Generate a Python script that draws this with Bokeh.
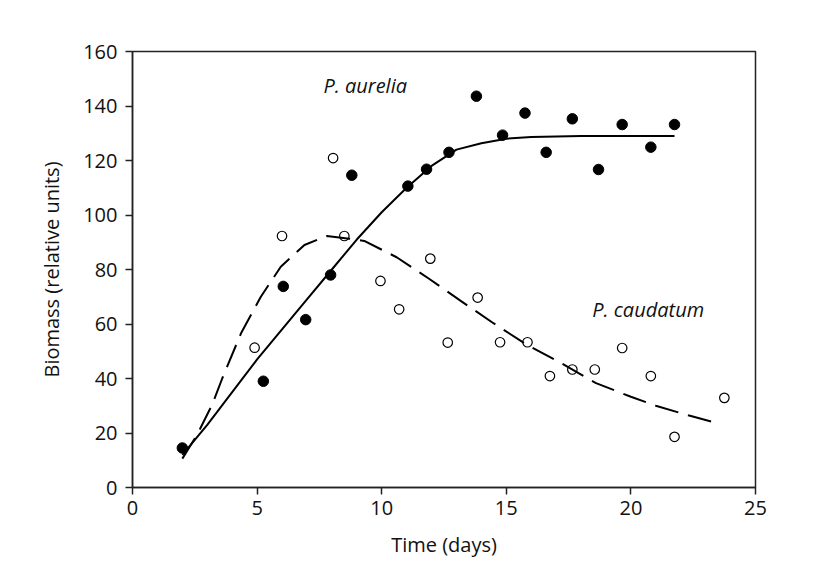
from bokeh.plotting import figure
from bokeh.models import Range1d, FixedTicker, Label
from bokeh.embed import file_html
from bokeh.resources import INLINE

# Observed data: P. aurelia (filled circles)
aurelia_days = [2.0, 5.25, 6.05, 6.95, 7.95, 8.8, 11.05, 11.8, 12.7, 13.8,
                14.85, 15.75, 16.6, 17.65, 18.7, 19.65, 20.8, 21.75]
aurelia_biomass = [14.5, 39, 73.8, 61.6, 78, 114.6, 110.6, 116.8, 123, 143.6,
                   129.3, 137.4, 123, 135.3, 116.7, 133.2, 124.9, 133.2]

# Observed data: P. caudatum (open circles)
caudatum_days = [4.9, 6.0, 8.05, 8.5, 9.95, 10.7, 11.95, 12.65, 13.85, 14.75,
                 15.85, 16.75, 17.65, 18.55, 19.65, 20.8, 21.75, 23.75]
caudatum_biomass = [51.3, 92.3, 120.9, 92.3, 75.8, 65.4, 84, 53.2, 69.7, 53.3,
                    53.3, 40.9, 43.3, 43.3, 51.2, 40.9, 18.6, 32.9]

# Fitted curves
aurelia_fit_days = [2.0, 3.0, 4.0, 5.0, 6.0, 7.0, 8.0, 9.0, 10.0, 11.0, 12.0,
                    13.0, 14.0, 15.0, 16.0, 18.0, 20.0, 21.75]
aurelia_fit = [12, 23, 35, 47, 58, 69, 80, 91, 101, 110, 118, 124, 126.3,
               128, 128.6, 129, 129, 129]

caudatum_fit_days = [2.0, 2.6, 3.2, 3.6, 4.35, 5.15, 5.95, 6.9, 7.8, 8.7, 9.3,
                     10.6, 11.9, 13.2, 14.5, 15.8, 17.0, 18.6, 20.0, 21.0,
                     22.3, 23.5]
caudatum_fit = [10.6, 19.5, 30.5, 40, 56.5, 70, 81, 89, 92.3, 91.3, 90.5,
                84.5, 76.6, 68.3, 60.2, 52.5, 46.7, 38.3, 33.3, 30, 26.5, 23.5]

x_ticks = [0, 5, 10, 15, 20, 25]
y_ticks = [0, 20, 40, 60, 80, 100, 120, 140, 160]

FONT = "Open Sans"
FS = "20px"

p = figure(width=820, height=560, output_backend="svg", toolbar_location=None,
           x_range=Range1d(0, 25), y_range=Range1d(0, 160),
           min_border_left=132, min_border_right=65, min_border_top=51,
           min_border_bottom=73)

p.xgrid.visible = False
p.ygrid.visible = False
p.outline_line_color = "#222222"
p.outline_line_width = 1.5
p.background_fill_color = "white"
p.border_fill_color = "white"

for ax in (p.xaxis[0], p.yaxis[0]):
    ax.axis_line_color = "#222222"
    ax.axis_line_width = 1.5
    ax.major_tick_line_color = "#222222"
    ax.major_tick_line_width = 1.5
    ax.major_tick_out = 7
    ax.major_tick_in = 0
    ax.minor_tick_line_color = None
    ax.major_label_text_font = FONT
    ax.major_label_text_font_size = FS
    ax.major_label_text_color = "#111111"
    ax.axis_label_text_font = FONT
    ax.axis_label_text_font_size = FS
    ax.axis_label_text_font_style = "normal"
    ax.axis_label_text_color = "#111111"

p.xaxis.ticker = FixedTicker(ticks=x_ticks)
p.yaxis.ticker = FixedTicker(ticks=y_ticks)
p.xaxis.axis_label = "Time (days)"
p.yaxis.axis_label = "Biomass (relative units)"
p.xaxis.major_label_standoff = 6
p.yaxis.major_label_standoff = 8
p.xaxis.axis_label_standoff = 13
p.yaxis.axis_label_standoff = 15

p.scatter(aurelia_days, aurelia_biomass, size=10.5, marker="circle",
          fill_color="black", line_color="black", line_width=1)
p.scatter(caudatum_days, caudatum_biomass, size=9.5, marker="circle",
          fill_color=None, line_color="black", line_width=1.2)

p.line(aurelia_fit_days, aurelia_fit, line_color="black", line_width=2)
p.line(caudatum_fit_days, caudatum_fit, line_color="black", line_width=2,
       line_dash="24 10")

p.add_layout(Label(x=7.66, y=142.6, text="P. aurelia", text_font=FONT,
                   text_font_size=FS, text_font_style="italic",
                   text_color="#111111"))
p.add_layout(Label(x=18.45, y=60.4, text="P. caudatum", text_font=FONT,
                   text_font_size=FS, text_font_style="italic",
                   text_color="#111111"))

open("out.html", "w").write(file_html(p, INLINE))
